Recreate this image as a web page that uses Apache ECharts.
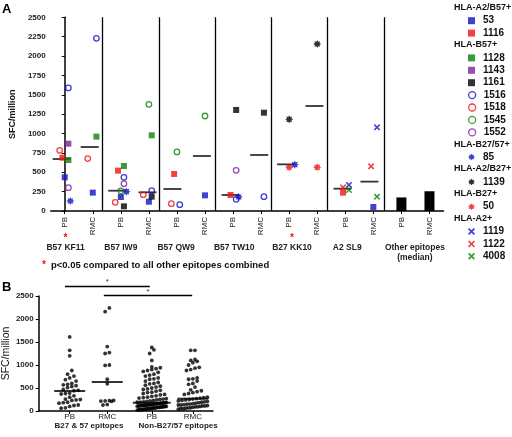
<!DOCTYPE html>
<html><head><meta charset="utf-8">
<script src="https://cdn.jsdelivr.net/npm/echarts@6/dist/echarts.min.js"></script>
<style>html,body{margin:0;padding:0;background:#fff}#c{width:512px;height:437px}</style>
</head><body><div id="c"></div>
<script>
// ---------- Panel A data ----------
const catLabelsA = ['PB','RMC','PB','RMC','PB','RMC','PB','RMC','PB','RMC','PB','RMC','PB','RMC'];
const groupLabelsA = ['B57 KF11','B57 IW9','B57 QW9','B57 TW10','B27 KK10','A2 SL9','Other epitopes\n(median)'];
const groupPosA = [0.03, 2, 3.97, 6.04, 8.1, 10.07, 12.48];
const groupSigA = [true, false, false, false, true, false, false];
const separatorPosA = [1.35, 3.37, 5.37, 7.37, 9.35, 11.4];

// [category index (+ jitter), SFC/million]
const d53   = [[0,435],[1,237],[2,181],[3,120],[5,202],[11,52]];
const d1116 = [[-0.08,688],[1.9,521],[3.9,478],[5.91,207],[9.92,237]];
const d1128 = [[0.13,658],[1.13,960],[2.11,581],[3.1,977]];
const d1143 = [[0.13,869]];
const d1161 = [[2.11,60],[3.1,185],[6.11,1304],[7.1,1269]];
const d1516 = [[0.13,1588],[1.13,2229],[2.11,435],[3.1,262],[4.1,82],[6.11,151],[7.1,185]];
const d1518 = [[-0.18,783],[0.82,676],[1.8,112],[2.8,211],[3.8,95]];
const d1545 = [[2,258],[3,1377],[4,762],[5,1226]];
const d1552 = [[0.13,301],[2.11,353],[6.11,525]];
const d85   = [[0.2,129],[2.2,250],[6.2,181],[8.2,598]];
const d1139 = [[8,1183],[9,2156]];
const d50   = [[8,564],[9,564]];
const d1119 = [[10.13,336],[11.13,1080]];
const d1122 = [[9.92,305],[10.92,577]];
const d4008 = [[10.13,271],[11.13,185]];

const medianA = [[-0.11,671],[0.89,826],[1.87,262],[2.95,241],[3.84,284],[4.89,710],[5.91,207],[6.93,723],[7.89,602],[8.9,1355],[9.9,288],[10.86,379]];
const otherEpitopesA = [[12,175],[13,255]];

const legendRows = ['#HLA-A2/B57+','53','1116','#HLA-B57+','1128','1143','1161','1516','1518','1545','1552',
  '#HLA-B27/57+','85','#HLA-A2/B27+','1139','#HLA-B27+','50','#HLA-A2+','1119','1122','4008'];

// ---------- Panel B data ----------
const catLabelsB = ['PB','RMC','PB','RMC'];
const catPosB = [0.8, 1.77, 2.92, 3.98];
const groupLabelsB = ['B27 & 57 epitopes','Non-B27/57 epitopes'];
const groupPosB = [1.3, 3.6];
const bPB27 = [1610,1320,1200,880,800,760,720,680,650,600,580,570,550,530,510,470,450,440,390,380,370,330,300,260,250,240,230,190,180,170,130,120,100,70,60];
const bRMC27 = [2240,2160,1400,1270,1250,1000,990,690,590,230,225,220,215,210,140,130];
const bPBnon = [1380,1330,1250,1100,960,940,920,900,880,860,840,800,780,760,720,700,690,650,620,600,590,560,540,520,500,480,470,450,430,410,
  400,380,360,350,330,320,300,290,280,270,260,250,240,230,220,210,200,195,190,185,180,175,170,165,160,155,150,145,140,135,
  130,125,120,115,110,105,100,95,90,85,80,75,70,65,60,55,50,45,40,35,30,25,20,170,160,150,140,130,120,110,100,90,80,70,60,50,40,30,25];
const bRMCnon = [1320,1320,1120,1100,1080,1050,1000,950,930,900,880,720,700,690,650,600,580,520,460,440,420,400,380,360,300,290,280,270,260,250,
  240,230,220,210,200,190,180,170,160,150,140,130,120,110,100,90,80,70,60,50,40,150,130,110,90,70,50];
const medianB = [435, 630, 181, 268];
const sigBrackets = [[0,2,1],[1,3,0.07]]; // [from category, to category, level]

// ---------- styles ----------
const BLUE='#1010c8', RED='#ee1111', GREEN='#0b800b', PURPLE='#7d1f9c', BLACK='#000';
function starPath(){let p='';for(let k=0;k<16;k++){const a=k*Math.PI/8-Math.PI/2;const r=k%2?0.62:1;p+=(k?'L':'M')+(Math.cos(a)*r).toFixed(3)+','+(Math.sin(a)*r).toFixed(3);}return 'path://'+p+'Z';}
const STAR = starPath();
const XSYM = 'path://M0,0.17L0.17,0L0.5,0.33L0.83,0L1,0.17L0.67,0.5L1,0.83L0.83,1L0.5,0.67L0.17,1L0,0.83L0.33,0.5Z';
const donorStyle = {
  '53':['sq',BLUE],'1116':['sq',RED],'1128':['sq',GREEN],'1143':['sq',PURPLE],'1161':['sq',BLACK],
  '1516':['ci',BLUE],'1518':['ci',RED],'1545':['ci',GREEN],'1552':['ci',PURPLE],
  '85':['st',BLUE],'1139':['st',BLACK],'50':['st',RED],
  '1119':['x',BLUE],'1122':['x',RED],'4008':['x',GREEN]};
const donorData = {'53':d53,'1116':d1116,'1128':d1128,'1143':d1143,'1161':d1161,'1516':d1516,'1518':d1518,
  '1545':d1545,'1552':d1552,'85':d85,'1139':d1139,'50':d50,'1119':d1119,'1122':d1122,'4008':d4008};

const FONT = '"Liberation Sans", Arial, sans-serif';
function donorSeries(name){
  const [t,c] = donorStyle[name];
  const s = {type:'scatter', name, xAxisIndex:0, yAxisIndex:0, data:donorData[name], z:4, silent:true};
  if(t==='sq'){s.symbol='rect'; s.symbolSize=6; s.itemStyle={color:c};}
  if(t==='ci'){s.symbol='circle'; s.symbolSize=5.5; s.itemStyle={color:'rgba(255,255,255,0)', borderColor:c, borderWidth:1.3};}
  if(t==='st'){s.symbol=STAR; s.symbolSize=8; s.itemStyle={color:c};}
  if(t==='x'){s.symbol=XSYM; s.symbolSize=6.5; s.itemStyle={color:c};}
  return s;
}

function swarm(vals, center, binSize, step, maxW){
  const sorted = vals.slice().sort((a,b)=>a-b); const out=[]; let i=0;
  while(i<sorted.length){
    const start=sorted[i]; const bin=[];
    while(i<sorted.length && sorted[i]-start<binSize){bin.push(sorted[i]); i++;}
    const n=bin.length; let s=step; if(n>1 && (n-1)*s>maxW) s=maxW/(n-1);
    bin.forEach((v,k)=>out.push([center+(k-(n-1)/2)*s, v]));
  }
  return out;
}

// ---------- build option ----------
const series = Object.keys(donorData).map(donorSeries);
series.push({type:'scatter', name:'medianA', xAxisIndex:0, yAxisIndex:0, symbol:'rect', symbolSize:[18,1.8],
  itemStyle:{color:BLACK}, data:medianA, silent:true, z:3});
series.push({type:'bar', name:'other', xAxisIndex:0, yAxisIndex:0, barWidth:10, itemStyle:{color:BLACK},
  data:otherEpitopesA, silent:true,
  markLine:{silent:true, symbol:['none','none'], label:{show:false}, lineStyle:{color:BLACK, width:1.3, type:'solid'},
    data: separatorPosA.map(x=>[{coord:[x,0]},{coord:[x,2500]}])}});
const swarmData = [].concat(
  swarm(bPB27, catPosB[0], 85, 0.11, 0.75),
  swarm(bRMC27, catPosB[1], 85, 0.11, 0.75),
  swarm(bPBnon, catPosB[2], 85, 0.11, 0.75),
  swarm(bRMCnon, catPosB[3], 85, 0.11, 0.75));
series.push({type:'scatter', name:'B', xAxisIndex:2, yAxisIndex:1, symbol:'circle', symbolSize:3.8,
  itemStyle:{color:BLACK}, data:swarmData, silent:true});
const medWidthB = [31,31,38,31];
series.push({type:'scatter', name:'medianB', xAxisIndex:2, yAxisIndex:1, symbol:'rect', silent:true, z:3,
  itemStyle:{color:BLACK}, data: medianB.map((v,i)=>({value:[catPosB[i],v], symbolSize:[medWidthB[i],2]}))});
series.push({type:'scatter', name:'sig', xAxisIndex:4, yAxisIndex:2, data:[], silent:true,
  markLine:{silent:true, symbol:['none','none'], lineStyle:{color:BLACK, width:1.3, type:'solid'},
    label:{show:true, formatter:'*', position:'insideMiddleTop', distance:0, fontSize:8, color:'#333'},
    data: sigBrackets.map(b=>[{coord:[catPosB[b[0]], b[2]]},{coord:[catPosB[b[1]], b[2]]}])}});

const legends = []; const titles = [];
legendRows.forEach((r,i)=>{
  const cy = 8.8 + 12.4*i;
  if(r[0]==='#'){
    titles.push({text:r.slice(1), left:454, top:cy-5.5, padding:0,
      textStyle:{fontSize:9, fontWeight:'bold', color:'#111', fontFamily:FONT}});
  } else {
    const isCi = donorStyle[r][0]==='ci';
    legends.push({data:[{name:r, itemStyle: isCi?{borderWidth:1.3}:{borderWidth:0}}], left:468, top:cy-5.5, padding:0,
      orient:'vertical', itemWidth:7, itemHeight:7, selectedMode:false,
      textStyle:{fontSize:10, fontWeight:'bold', color:'#111', fontFamily:FONT, padding:[0,0,0,3]}});
  }
});
titles.push({text:'A', left:2, top:3, padding:0, textStyle:{fontSize:13, fontWeight:'bold', color:'#000', fontFamily:FONT}});
titles.push({text:'B', left:2, top:281, padding:0, textStyle:{fontSize:13, fontWeight:'bold', color:'#000', fontFamily:FONT}});
titles.push({text:'{s|*} {t|p<0.05 compared to all other epitopes combined}', left:42, top:256, padding:0,
  textStyle:{fontFamily:FONT, rich:{s:{color:RED, fontSize:10, fontWeight:'bold'}, t:{color:'#111', fontSize:9.5, fontWeight:'bold'}}}});

const plain = v => String(v);
const option = {
  animation:false,
  textStyle:{fontFamily:FONT},
  title: titles,
  legend: legends,
  grid:[
    {left:37.2, top:17.3, width:406.3, height:193.7},
    {left:33, top:296, width:180, height:115},
    {left:33, top:276, width:180, height:20}
  ],
  xAxis:[
    {gridIndex:0, type:'value', min:-0.5, max:13.5, splitLine:{show:false},
      axisLine:{lineStyle:{color:BLACK, width:1.5}},
      axisTick:{customValues:catLabelsA.map((_,i)=>i), length:3, lineStyle:{color:BLACK}},
      axisLabel:{customValues:catLabelsA.map((_,i)=>i), formatter:v=>catLabelsA[Math.round(v)], rotate:90, fontSize:8, color:'#222', margin:6}},
    {gridIndex:0, type:'value', min:-0.5, max:13.5, position:'bottom', offset:16, splitLine:{show:false},
      axisLine:{show:false}, axisTick:{show:false},
      axisLabel:{customValues:groupPosA, margin:6, color:'#222',
        formatter:v=>{const i=groupPosA.indexOf(v); const parts=groupLabelsA[i].split('\n');
          return (groupSigA[i]?'{s|*}':'{s| }')+'\n'+parts.map(p=>'{n|'+p+'}').join('\n');},
        rich:{s:{color:RED, fontSize:10, lineHeight:10, fontWeight:'bold'}, n:{fontSize:8.5, fontWeight:'bold', lineHeight:10, color:'#222'}}}},
    {gridIndex:1, type:'value', min:0, max:4.5, splitLine:{show:false},
      axisLine:{lineStyle:{color:BLACK, width:1.5}},
      axisTick:{customValues:catPosB, length:3, lineStyle:{color:BLACK}},
      axisLabel:{customValues:catPosB, formatter:v=>catLabelsB[catPosB.indexOf(v)], fontSize:8, color:'#222', margin:2}},
    {gridIndex:1, type:'value', min:0, max:4.5, position:'bottom', offset:9, splitLine:{show:false},
      axisLine:{show:false}, axisTick:{show:false},
      axisLabel:{customValues:groupPosB, formatter:v=>groupLabelsB[groupPosB.indexOf(v)], fontSize:8, fontWeight:'bold', color:'#222', margin:2}},
    {gridIndex:2, type:'value', min:0, max:4.5, show:false}
  ],
  yAxis:[
    {gridIndex:0, type:'value', min:0, max:2500, interval:250, splitLine:{show:false},
      axisLine:{show:true, lineStyle:{color:BLACK, width:1.5}},
      axisTick:{show:true, length:3, lineStyle:{color:BLACK}},
      axisLabel:{fontSize:8, fontWeight:'bold', color:'#222', margin:5, formatter:plain},
      name:'SFC/million', nameLocation:'middle', nameGap:18, nameRotate:90,
      nameTextStyle:{fontSize:9, fontWeight:'bold', color:'#111'}},
    {gridIndex:1, type:'value', min:0, max:2500, interval:500, splitLine:{show:false},
      axisLine:{show:true, lineStyle:{color:BLACK, width:1.5}},
      axisTick:{show:true, length:3, lineStyle:{color:BLACK}},
      axisLabel:{fontSize:8, fontWeight:'bold', color:'#222', margin:5, formatter:plain},
      name:'SFC/million', nameLocation:'middle', nameGap:19, nameRotate:90,
      nameTextStyle:{fontSize:10.5, color:'#111'}},
    {gridIndex:2, type:'value', min:0, max:2, show:false}
  ],
  series
};
const chart = echarts.init(document.getElementById('c'), null, {renderer:'canvas'});
chart.setOption(option);
</script></body></html>
